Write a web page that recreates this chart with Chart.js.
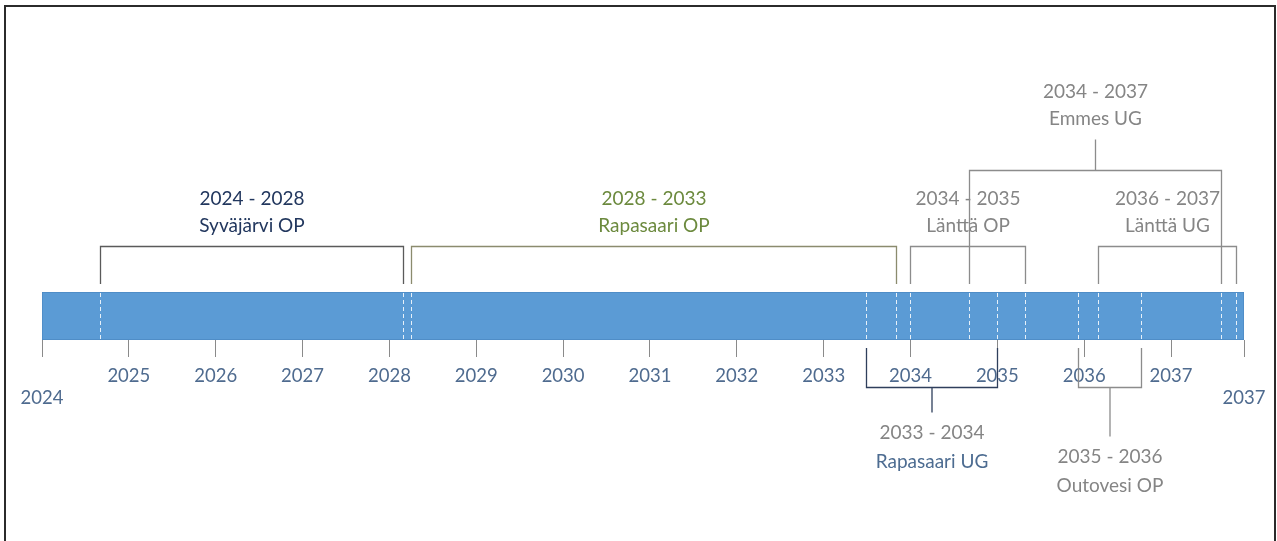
<!DOCTYPE html>
<html lang="fi">
<head>
    <meta charset="UTF-8">
    <title>Aikajana</title>
    <script src="https://cdn.jsdelivr.net/npm/chart.js@4"></script>
    <style>
        html, body { margin: 0; padding: 0; background: #fff; }
        .wrap { position: relative; width: 1277px; height: 541px; }
        .frame {
            position: absolute; left: 4px; top: 5px; width: 1268px; height: 540px;
            border: 2px solid #2b2b2b; border-bottom: none; pointer-events: none;
        }
    </style>
</head>
<body>
    <div class="wrap">
        <canvas id="timeline"></canvas>
        <div class="frame"></div>
    </div>

    <script>
        // aikajanan rajat (desimaalivuosina)
        const timelineStart = 2024;
        const timelineEnd = 2037.84;

        // akselin merkit
        const tickValues = [2024, 2025, 2026, 2027, 2028, 2029, 2030, 2031, 2032, 2033, 2034, 2035, 2036, 2037, 2037.84];
        const tickLabels = ['2024', '2025', '2026', '2027', '2028', '2029', '2030', '2031', '2032', '2033', '2034', '2035', '2036', '2037', '2037'];

        // vaiheet
        const phaseNames = ['Syväjärvi OP', 'Rapasaari OP', 'Rapasaari UG', 'Länttä OP', 'Outovesi OP', 'Emmes UG', 'Länttä UG'];
        const phaseFrom = ['2024', '2028', '2033', '2034', '2035', '2034', '2036'];
        const phaseTo = ['2028', '2033', '2034', '2035', '2036', '2037', '2037'];
        const phaseStart = [2024.67, 2028.25, 2033.49, 2034.00, 2035.93, 2034.67, 2036.16];
        const phaseEnd = [2028.16, 2033.83, 2035.00, 2035.32, 2036.65, 2037.58, 2037.75];
        // kerros: 1/2 = yläpuolella, -1/-2 = alapuolella
        const phaseTier = [1, 1, -1, 1, -2, 2, 1];

        // tyylit
        const phaseLineColor = ['#5a5a5a', '#8b8b6e', '#2f3f5c', '#8c8c8c', '#8c8c8c', '#8c8c8c', '#8c8c8c'];
        const phaseYearColor = ['#22375e', '#6c8a3e', '#858585', '#858585', '#858585', '#858585', '#858585'];
        const phaseNameColor = ['#22375e', '#6c8a3e', '#4d6c91', '#858585', '#858585', '#858585', '#858585'];
        const tierGeom = {
            '1':  { y: -46,  stem: 0 },
            '2':  { y: -122, stem: 31 },
            '-1': { y: 47,   stem: 25 },
            '-2': { y: 47,   stem: 49 }
        };
        const labelFont = '19px Lato';

        const bracketPlugin = {
            id: 'brackets',
            afterDatasetsDraw(chart) {
                const { ctx, chartArea, scales } = chart;
                // katkoviivat palkissa
                ctx.save();
                ctx.strokeStyle = 'rgba(255,255,255,0.85)';
                ctx.lineWidth = 1;
                ctx.setLineDash([4, 3]);
                phaseStart.concat(phaseEnd).forEach(v => {
                    const x = Math.round(scales.x.getPixelForValue(v)) + 0.5;
                    ctx.beginPath();
                    ctx.moveTo(x, chartArea.top + 1);
                    ctx.lineTo(x, chartArea.bottom - 1);
                    ctx.stroke();
                });
                ctx.restore();
            },
            afterDraw(chart) {
                const { ctx, chartArea, scales } = chart;
                const top = chartArea.top, bottom = chartArea.bottom;
                ctx.save();
                ctx.lineWidth = 1.3;
                ctx.font = labelFont;
                ctx.textAlign = 'center';
                ctx.textBaseline = 'alphabetic';
                phaseNames.forEach((name, i) => {
                    const g = tierGeom[phaseTier[i]];
                    const above = phaseTier[i] > 0;
                    const x1 = Math.round(scales.x.getPixelForValue(phaseStart[i])) + 0.5;
                    const x2 = Math.round(scales.x.getPixelForValue(phaseEnd[i])) + 0.5;
                    const mid = (x1 + x2) / 2;
                    const hy = Math.round((above ? top : bottom) + g.y) + 0.5;
                    const legEnd = above ? top - 8 : bottom + 8;
                    ctx.strokeStyle = phaseLineColor[i];
                    ctx.beginPath();
                    ctx.moveTo(x1, legEnd);
                    ctx.lineTo(x1, hy);
                    ctx.lineTo(x2, hy);
                    ctx.lineTo(x2, legEnd);
                    const anchor = above ? hy - g.stem : hy + g.stem;
                    if (g.stem) {
                        ctx.moveTo(mid, hy);
                        ctx.lineTo(mid, anchor);
                    }
                    ctx.stroke();

                    const yearText = phaseFrom[i] + ' - ' + phaseTo[i];
                    const y1 = above ? anchor - 42 : anchor + 26;
                    const y2 = above ? anchor - 15 : anchor + 55;
                    ctx.fillStyle = phaseYearColor[i];
                    ctx.fillText(yearText, mid, y1);
                    ctx.fillStyle = phaseNameColor[i];
                    ctx.fillText(name, mid, y2);
                });
                ctx.restore();
            }
        };

        const chart = new Chart(document.getElementById('timeline'), {
            type: 'bar',
            data: {
                labels: [''],
                datasets: [{
                    data: [[timelineStart, timelineEnd]],
                    backgroundColor: '#5b9bd5',
                    borderColor: '#4b88c2',
                    borderWidth: 1,
                    borderSkipped: false,
                    categoryPercentage: 1,
                    barPercentage: 1
                }]
            },
            options: {
                indexAxis: 'y',
                responsive: true,
                maintainAspectRatio: false,
                animation: false,
                layout: { padding: { top: 292, left: 42, right: 33, bottom: 0 } },
                plugins: { legend: { display: false }, tooltip: { enabled: false } },
                scales: {
                    y: { display: false },
                    x: {
                        type: 'linear',
                        min: timelineStart,
                        max: timelineEnd,
                        border: { display: false },
                        grid: {
                            drawOnChartArea: false,
                            drawTicks: true,
                            tickLength: 17,
                            color: '#8a8a8a',
                            tickColor: '#8a8a8a'
                        },
                        afterBuildTicks: scale => {
                            scale.ticks = tickValues.map(v => ({ value: v }));
                        },
                        afterFit: scale => { scale.height = 201; },
                        ticks: {
                            autoSkip: false,
                            maxRotation: 0,
                            padding: 8,
                            color: '#4f6b8f',
                            font: { family: 'Lato', size: 18.5 },
                            callback: (v, i, ticks) => {
                                const lbl = tickLabels[i];
                                return (i === 0 || i === ticks.length - 1) ? ['', lbl] : lbl;
                            }
                        }
                    }
                }
            },
            plugins: [bracketPlugin]
        });
    </script>
</body>
</html>
